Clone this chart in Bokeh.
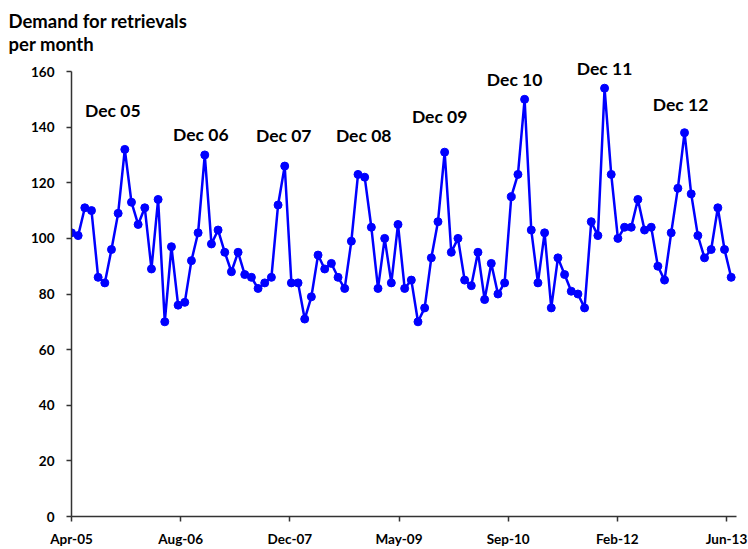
from bokeh.plotting import figure
from bokeh.models import FixedTicker, CustomJSTickFormatter, Title, ColumnDataSource, Range1d
from bokeh.core.properties import value
from bokeh.embed import file_html
from bokeh.resources import INLINE

# Monthly demand for retrievals, Apr-05 onwards
demand = [102, 101, 111, 110, 86, 84, 96, 109, 132, 113,
          105, 111, 89, 114, 70, 97, 76, 77, 92, 102,
          130, 98, 103, 95, 88, 95, 87, 86, 82, 84,
          86, 112, 126, 84, 84, 71, 79, 94, 89, 91,
          86, 82, 99, 123, 122, 104, 82, 100, 84, 105,
          82, 85, 70, 75, 93, 106, 131, 95, 100, 85,
          83, 95, 78, 91, 80, 84, 115, 123, 150, 103,
          84, 102, 75, 93, 87, 81, 80, 75, 106, 101,
          154, 123, 100, 104, 104, 114, 103, 104, 90, 85,
          102, 118, 138, 116, 101, 93, 96, 111, 96, 86]
month_index = list(range(len(demand)))

x_tick_labels = ["Apr-05", "Aug-06", "Dec-07", "May-09", "Sep-10", "Feb-12", "Jun-13"]
y_ticks = [0, 20, 40, 60, 80, 100, 120, 140, 160]

peak_labels = ["Dec 05", "Dec 06", "Dec 07", "Dec 08", "Dec 09", "Dec 10", "Dec 11", "Dec 12"]
peak_index = [8, 20, 32, 44, 56, 68, 80, 92]

title_text = "Demand for retrievals\nper month"

FONT = "Lato"

p = figure(width=748, height=549, output_backend="svg", toolbar_location=None,
           x_range=Range1d(0, 99.8), y_range=Range1d(0, 165.4),
           min_border_left=71, min_border_right=12, min_border_top=56, min_border_bottom=33)
p.outline_line_color = None
p.background_fill_color = "white"
p.border_fill_color = "white"
p.xgrid.visible = False
p.ygrid.visible = False

src = ColumnDataSource(dict(x=month_index, y=demand))
p.line("x", "y", source=src, line_color="#0000FF", line_width=2.5)
p.scatter("x", "y", source=src, size=8, fill_color="#0000FF", line_color="#0000FF")

# peak annotations anchored at the December peaks
offsets_x = [-12, -4, -1, -1, -5, -10, 0, -4]
offsets_y = [-39, -20, -31, -42, -36, -20, -20, -28]
lab_src = ColumnDataSource(dict(x=peak_index, y=[demand[i] for i in peak_index],
                                t=peak_labels, dx=offsets_x, dy=offsets_y))
p.text("x", "y", text="t", source=lab_src, x_offset="dx", y_offset="dy",
       text_align="center", text_baseline="middle",
       text_font=value(FONT), text_font_style="bold", text_font_size="17.5px", text_color="black")

# axes
last_tick = 98.3
xt = [k * last_tick / 6 for k in range(7)]
p.xaxis.ticker = FixedTicker(ticks=xt)
p.xaxis.formatter = CustomJSTickFormatter(args=dict(labels=x_tick_labels), code="return labels[index];")
p.yaxis.ticker = FixedTicker(ticks=y_ticks)
p.yaxis.bounds = (0, 160)
for ax in (p.xaxis, p.yaxis):
    ax.axis_line_color = "#333333"
    ax.axis_line_width = 1.5
    ax.major_tick_line_color = "#333333"
    ax.major_tick_line_width = 1.5
    ax.major_tick_out = 5
    ax.major_tick_in = 0
    ax.minor_tick_line_color = None
    ax.major_label_text_font = FONT
    ax.major_label_text_font_style = "bold"
    ax.major_label_text_font_size = "13.5px"
    ax.major_label_text_color = "black"
p.xaxis.major_label_standoff = 9
p.yaxis.major_label_standoff = 12

p.add_layout(Title(text=title_text, align="left", offset=-63, vertical_align="top",
                   text_font=FONT, text_font_style="bold", text_font_size="18.5px",
                   text_line_height=1.05, standoff=0, text_color="black"), "above")

open("out.html", "w").write(file_html(p, INLINE))
